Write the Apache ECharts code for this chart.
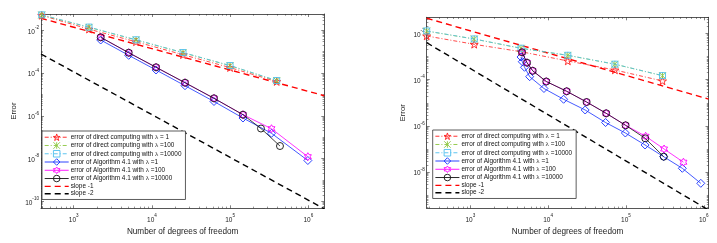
<!DOCTYPE html>
<html><head><meta charset="utf-8">
<script src="https://cdn.jsdelivr.net/npm/echarts@6/dist/echarts.min.js"></script>
<style>html,body{margin:0;padding:0;background:#fff}#c{width:717px;height:243px}</style>
</head><body><div id="c"></div>
<script>
// ---------- Left panel ----------
const L_directX     = [390, 1570, 6270, 25000, 99800, 394000];
const L_direct1     = [0.050, 0.0113, 0.0029, 0.00072, 0.00018, 0.000040];
const L_direct100   = [0.052, 0.0138, 0.00352, 0.000895, 0.000221, 0.0000438];
const L_direct10000 = [0.053, 0.0141, 0.00360, 0.00091, 0.000225, 0.0000446];
const L_algX        = [2215, 5050, 11300, 26500, 62200, 146000, 338000, 986000];
const L_alg1        = [0.00352, 0.000676, 0.000139, 0.0000256, 0.00000467, 0.000000788, 0.000000152, 0.0000000081];
const L_alg100      = [0.00471, 0.000895, 0.000186, 0.0000354, 0.00000659, 0.00000113, 0.000000249, 0.0000000122];
const L_alg10000X   = [2215, 5050, 11300, 26500, 62200, 146000, 248000, 434000];
const L_alg10000    = [0.00471, 0.000895, 0.000186, 0.0000354, 0.00000659, 0.00000113, 0.000000254, 0.0000000386];
const L_slopeX      = [382, 1600000];
const L_slope1      = [0.0364, 0.0000087];
const L_slope2      = [0.000778, 0.0000000000443];
// ---------- Right panel ----------
const R_directX     = [275, 1122, 4480, 17900, 72100, 295000];
const R_direct1     = [0.0078, 0.0034, 0.00163, 0.000646, 0.000263, 0.000088];
const R_direct100   = [0.0127, 0.00575, 0.00228, 0.00113, 0.000466, 0.000149];
const R_direct10000 = [0.0129, 0.00580, 0.00230, 0.00114, 0.000470, 0.000150];
const R_alg1X       = [4480, 4650, 4970, 5790, 8830, 15800, 29900, 54700, 98200, 176000, 305000, 530000, 916000];
const R_alg1        = [0.00096, 0.0006, 0.000344, 0.000135, 0.0000416, 0.0000142, 0.00000488, 0.0000014, 0.000000493, 0.000000149, 0.0000000465, 0.0000000146, 0.00000000327];
const R_algX        = [4620, 5350, 6330, 9460, 17300, 31200, 55700, 98900, 179000, 309000, 548000];
const R_alg100      = [0.00153, 0.000545, 0.000243, 0.0000835, 0.0000315, 0.0000108, 0.00000351, 0.00000106, 0.000000355, 0.0000001, 0.0000000268];
const R_alg10000X   = [4620, 5350, 6330, 9460, 17300, 31200, 55700, 98900, 177000, 306000];
const R_alg10000    = [0.00153, 0.000545, 0.000243, 0.0000835, 0.0000315, 0.0000108, 0.00000351, 0.00000106, 0.00000029, 0.0000000465];
const R_slopeX      = [275, 1150000];
const R_slope1      = [0.0455, 0.0000145];
const R_slope2      = [0.0040, 0.000000000229];
// ---------- Axis ticks ----------
const L_xRange = [382, 1600000], L_yRange = [4.71e-11, 0.0579];
const R_xRange = [275, 1150000], R_yRange = [2.71e-10, 0.0502];
const L_xLabels = [1e3, 1e4, 1e5, 1e6];
const R_xLabels = [1e3, 1e4, 1e5, 1e6];
const L_yLabels = [1e-10, 1e-8, 1e-6, 1e-4, 1e-2];
const R_yLabels = [1e-8, 1e-6, 1e-4, 1e-2];

const NAMES = [
  'error of direct computing with λ = 1',
  'error of direct computing with λ =100',
  'error of direct computing with λ =10000',
  'error of Algorithm 4.1 with λ =1',
  'error of Algorithm 4.1 with λ =100',
  'error of Algorithm 4.1 with λ =10000',
  'slope -1',
  'slope -2'
];

function minorVals(range, labels) {
  const out = [];
  for (let e = -12; e <= 7; e++) {
    for (let k = 1; k <= 9; k++) {
      const v = k * Math.pow(10, e);
      if (v < range[0] || v > range[1]) continue;
      if (k === 1 && labels.some(l => Math.abs(Math.log10(l) - e) < 1e-9)) continue;
      out.push(v);
    }
  }
  return out;
}
const AX = '#2b2b2b';
const FONT = 'Liberation Sans';
const rich = {
  b: {fontSize: 6.5, fontFamily: FONT, color: '#222', lineHeight: 10, verticalAlign: 'bottom'},
  s: {fontSize: 4.6, fontFamily: FONT, color: '#222', lineHeight: 10, verticalAlign: 'top'}
};
function fmt(v) { return '{b|10}{s|' + Math.round(Math.log10(v)) + '}'; }

function makeX(gi, range, labels) {
  const minors = minorVals(range, labels);
  const base = {gridIndex: gi, type: 'log', min: range[0], max: range[1], splitLine: {show: false}, axisPointer: {show: false}};
  return [
    Object.assign({}, base, {position: 'bottom',
      axisLine: {show: true, lineStyle: {color: AX, width: 0.8}},
      axisTick: {show: true, inside: true, length: 3, customValues: labels, lineStyle: {color: AX, width: 0.6}},
      axisLabel: {show: true, customValues: labels, formatter: fmt, rich: rich, margin: 5},
      name: 'Number of degrees of freedom', nameLocation: 'middle', nameGap: 18,
      nameTextStyle: {fontSize: 8.2, fontFamily: FONT, color: '#222'}}),
    Object.assign({}, base, {position: 'bottom', axisLine: {show: false},
      axisTick: {show: true, inside: true, length: 1.7, customValues: minors, lineStyle: {color: AX, width: 0.5}},
      axisLabel: {show: false}}),
    Object.assign({}, base, {position: 'top',
      axisLine: {show: true, lineStyle: {color: AX, width: 0.8}},
      axisTick: {show: true, inside: true, length: 3, customValues: labels, lineStyle: {color: AX, width: 0.6}},
      axisLabel: {show: false}}),
    Object.assign({}, base, {position: 'top', axisLine: {show: false},
      axisTick: {show: true, inside: true, length: 1.7, customValues: minors, lineStyle: {color: AX, width: 0.5}},
      axisLabel: {show: false}})
  ];
}
function makeY(gi, range, labels, gap) {
  const minors = minorVals(range, labels);
  const base = {gridIndex: gi, type: 'log', min: range[0], max: range[1], splitLine: {show: false}, axisPointer: {show: false}};
  return [
    Object.assign({}, base, {position: 'left',
      axisLine: {show: true, lineStyle: {color: AX, width: 0.8}},
      axisTick: {show: true, inside: true, length: 3, customValues: labels, lineStyle: {color: AX, width: 0.6}},
      axisLabel: {show: true, customValues: labels, formatter: fmt, rich: rich, margin: 2},
      name: 'Error', nameLocation: 'middle', nameGap: gap, nameRotate: 90,
      nameTextStyle: {fontSize: 7.8, fontFamily: FONT, color: '#222'}}),
    Object.assign({}, base, {position: 'left', axisLine: {show: false},
      axisTick: {show: true, inside: true, length: 1.7, customValues: minors, lineStyle: {color: AX, width: 0.5}},
      axisLabel: {show: false}}),
    Object.assign({}, base, {position: 'right',
      axisLine: {show: true, lineStyle: {color: AX, width: 0.8}},
      axisTick: {show: true, inside: true, length: 3, customValues: labels, lineStyle: {color: AX, width: 0.6}},
      axisLabel: {show: false}}),
    Object.assign({}, base, {position: 'right', axisLine: {show: false},
      axisTick: {show: true, inside: true, length: 1.7, customValues: minors, lineStyle: {color: AX, width: 0.5}},
      axisLabel: {show: false}})
  ];
}

const STAR = 'path://M0,-10 L2.35,-3.24 L9.51,-3.09 L3.8,1.24 L5.88,8.09 L0,4 L-5.88,8.09 L-3.8,1.24 L-9.51,-3.09 L-2.35,-3.24 Z';
const HEX = 'path://M0,-10 L2.89,-5 L8.66,-5 L5.77,0 L8.66,5 L2.89,5 L0,10 L-2.89,5 L-8.66,5 L-5.77,0 L-8.66,-5 L-2.89,-5 Z';
const XMK = 'path://M-10,-10 L10,10 M-10,10 L10,-10 M0,-10 L0,10';
const STY = [
  {color: '#ff1a1a', symbol: STAR, size: 8, dash: [4, 2, 1, 2], w: 0.8},
  {color: '#8cc63e', symbol: XMK, size: 7, dash: [4, 2, 1, 2], w: 0.8},
  {color: '#4dbeee', symbol: 'rect', size: 6, dash: [4, 2, 1, 2], w: 0.8},
  {color: '#1530ff', symbol: 'diamond', size: 8, dash: 'solid', w: 0.8},
  {color: '#ff00ff', symbol: HEX, size: 8, dash: 'solid', w: 0.8},
  {color: '#111111', symbol: 'circle', size: 7, dash: 'solid', w: 0.8},
  {color: '#ff0000', symbol: 'none', size: 0, dash: [6, 4], w: 1.4},
  {color: '#000000', symbol: 'none', size: 0, dash: [6, 4], w: 1.4}
];
function zip(xs, ys) { return xs.map((x, i) => [x, ys[i]]); }
function ser(i, gi, xs, ys) {
  const s = STY[i];
  return {
    type: 'line', name: NAMES[i], xAxisIndex: gi * 4, yAxisIndex: gi * 4,
    data: zip(xs, ys), symbol: s.symbol, symbolSize: s.size, symbolKeepAspect: true,
    showSymbol: s.symbol !== 'none', silent: true, clip: true, z: i < 6 ? 3 + i : 2,
    itemStyle: {color: 'rgba(0,0,0,0)', borderColor: s.color, borderWidth: 0.9},
    lineStyle: {color: s.color, width: s.w, type: s.dash},
    emphasis: {disabled: true}
  };
}
function legendItems() {
  return NAMES.map((n, i) => {
    const s = STY[i];
    const item = {
      name: n,
      lineStyle: {color: s.color, width: s.w === 0.8 ? 0.9 : 1.4, type: s.dash},
      itemStyle: s.symbol === 'none'
        ? {color: 'rgba(0,0,0,0)', borderColor: 'rgba(0,0,0,0)', borderWidth: 0}
        : {color: 'rgba(0,0,0,0)', borderColor: s.color, borderWidth: 0.9}
    };
    return item;
  });
}
function legend(gi, left, top) {
  return {
    show: true, orient: 'vertical', left: left, top: top, data: legendItems(),
    itemWidth: 24, itemHeight: 8.2, itemGap: 0.8, padding: [2.5, 4, 2.5, 2],
    backgroundColor: '#fff', borderColor: '#333', borderWidth: 0.8, borderRadius: 0,
    selectedMode: false, z: 20,
    formatter: function (name) {
      const i = name.indexOf('λ');
      if (i < 0) return '{t|' + name + '}';
      return '{t|' + name.slice(0, i) + '}{g|λ}{t|' + name.slice(i + 1) + '}';
    },
    textStyle: {
      fontSize: 6.4, fontFamily: FONT, color: '#111', padding: [0, 0, 0, -3],
      rich: {
        t: {fontSize: 6.4, fontFamily: FONT, color: '#111'},
        g: {fontSize: 6.8, fontFamily: 'Liberation Serif', color: '#111'}
      }
    }
  };
}

const chart = echarts.init(document.getElementById('c'), null, {renderer: 'canvas'});
chart.setOption({
  animation: false,
  backgroundColor: '#fff',
  grid: [
    {left: 41, top: 14, width: 283.3, height: 194.3, containLabel: false},
    {left: 426.7, top: 17.3, width: 281.8, height: 191, containLabel: false}
  ],
  legend: [legend(0, 42, 131), legend(1, 432.7, 130)],
  xAxis: makeX(0, L_xRange, L_xLabels).concat(makeX(1, R_xRange, R_xLabels)),
  yAxis: makeY(0, L_yRange, L_yLabels, 23).concat(makeY(1, R_yRange, R_yLabels, 20)),
  series: [
    ser(0, 0, L_directX, L_direct1),
    ser(1, 0, L_directX, L_direct100),
    ser(2, 0, L_directX, L_direct10000),
    ser(3, 0, L_algX, L_alg1),
    ser(4, 0, L_algX, L_alg100),
    ser(5, 0, L_alg10000X, L_alg10000),
    ser(6, 0, L_slopeX, L_slope1),
    ser(7, 0, L_slopeX, L_slope2),
    ser(0, 1, R_directX, R_direct1),
    ser(1, 1, R_directX, R_direct100),
    ser(2, 1, R_directX, R_direct10000),
    ser(3, 1, R_alg1X, R_alg1),
    ser(4, 1, R_algX, R_alg100),
    ser(5, 1, R_alg10000X, R_alg10000),
    ser(6, 1, R_slopeX, R_slope1),
    ser(7, 1, R_slopeX, R_slope2)
  ]
});
</script></body></html>
